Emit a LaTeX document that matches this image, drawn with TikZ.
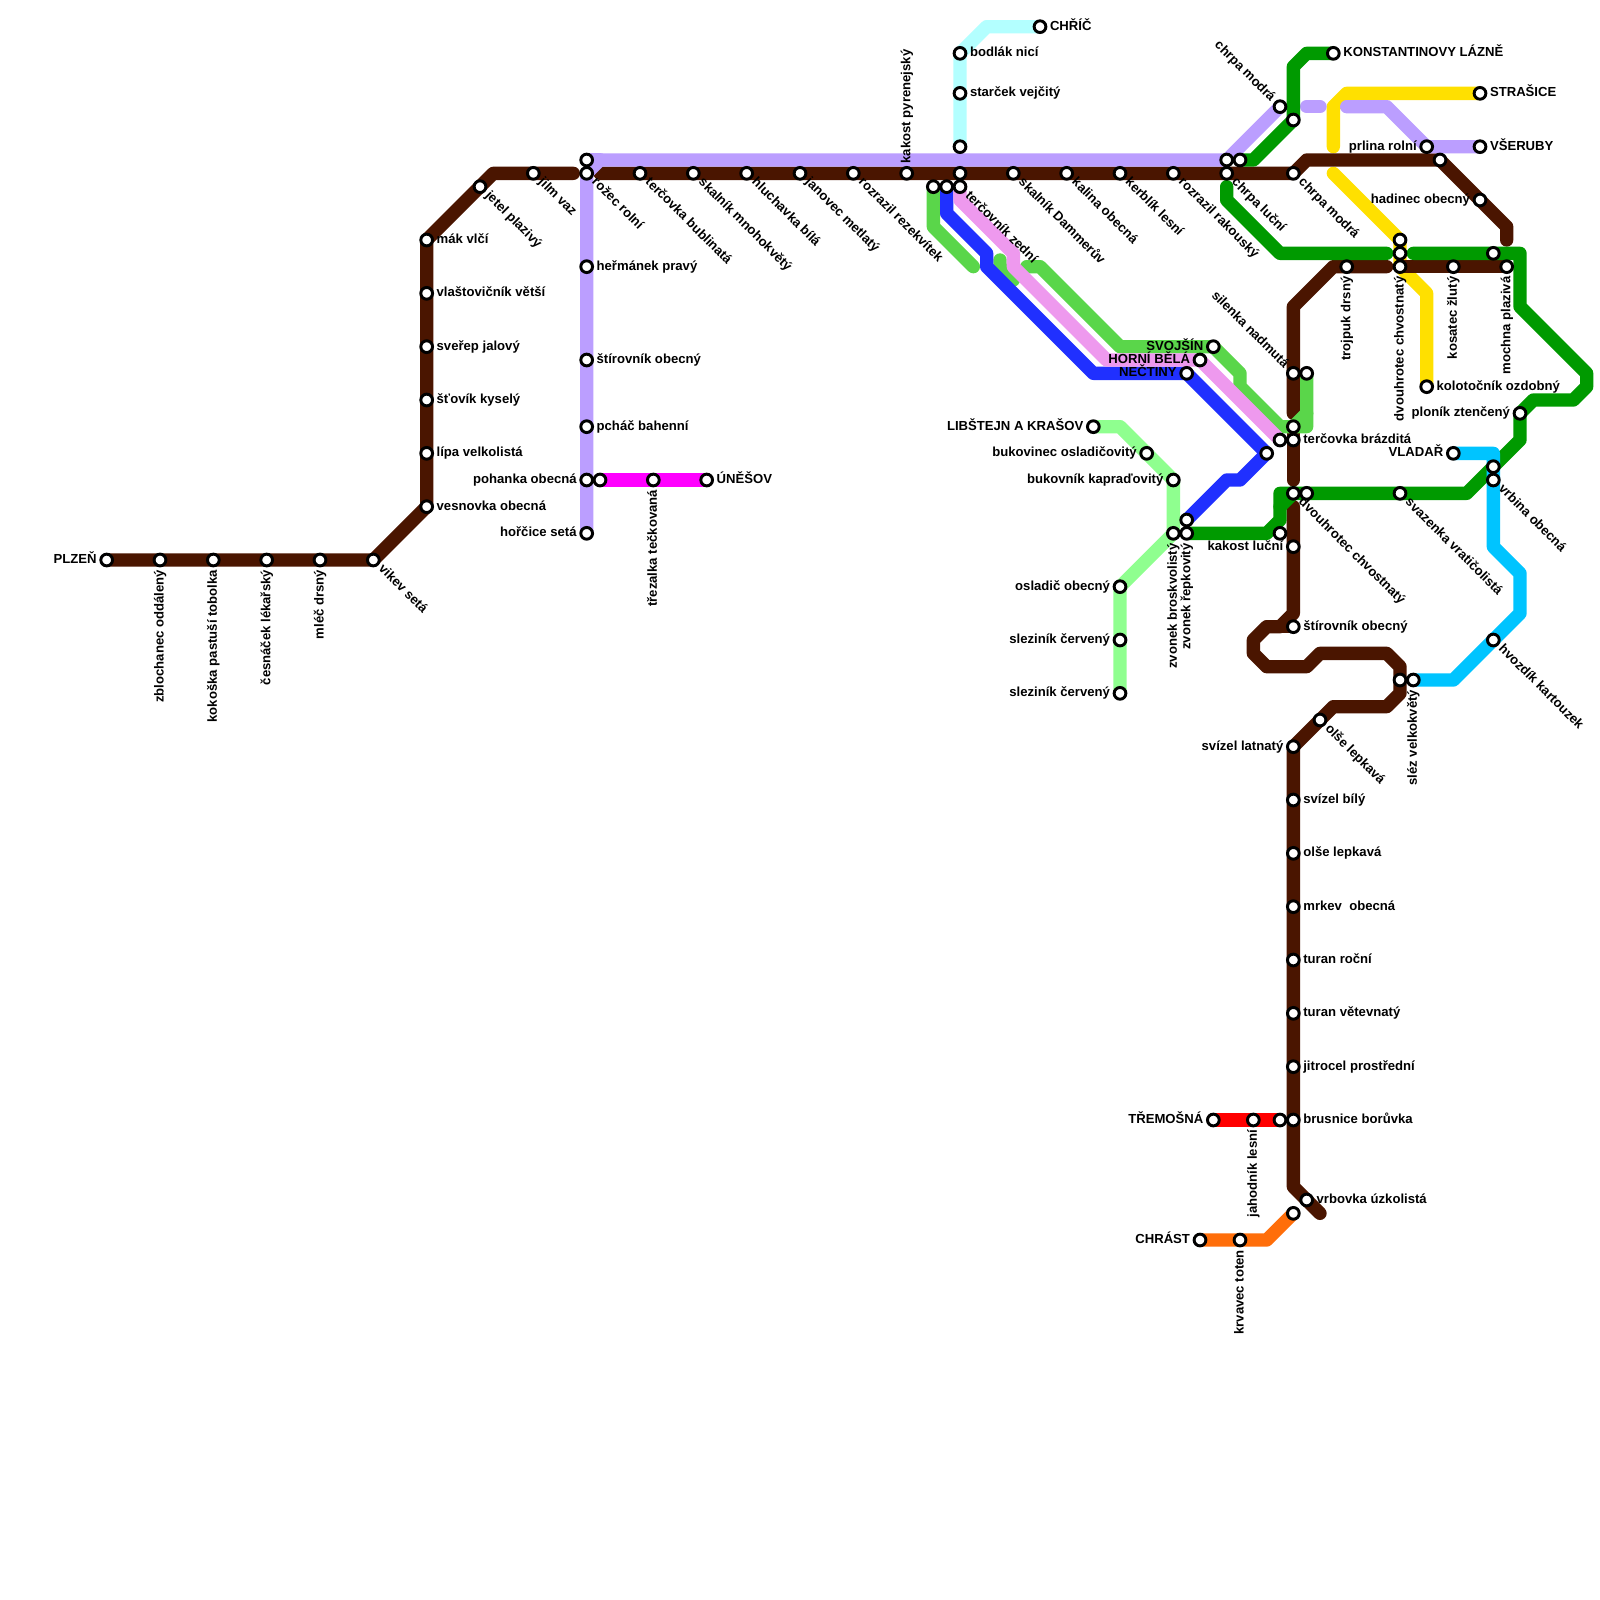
\documentclass[tikz,border=0pt]{standalone}
\usepackage{fontspec}
\setmainfont{Liberation Sans}
\definecolor{cBrown}{HTML}{4A1500}
\definecolor{cPurple}{HTML}{BB9EFF}
\definecolor{cGreen}{HTML}{009A00}
\definecolor{cLime}{HTML}{5AD64A}
\definecolor{cMint}{HTML}{8FFF8F}
\definecolor{cIce}{HTML}{B3FFFF}
\definecolor{cBlue}{HTML}{2030FF}
\definecolor{cPink}{HTML}{EE99EE}
\definecolor{cYellow}{HTML}{FFE000}
\definecolor{cSky}{HTML}{00C4FF}
\definecolor{cOrange}{HTML}{FF6E0A}
\definecolor{cMag}{HTML}{FF00FF}
\definecolor{cRed}{HTML}{FF0000}
\pgfdeclarelayer{lines}
\pgfsetlayers{lines,main}
\tikzset{
  stationdot/.style={circle,draw=black,fill=white,line width=.11cm,minimum size=.44cm,inner sep=0pt,outer sep=0pt},
  lbl/.style={inner sep=0pt,outer sep=0pt,text=black,font=\fontsize{14}{14}\selectfont\bfseries},
  lblE/.style={lbl,anchor=base west,xshift=.375cm,yshift=-.135cm},
  lblW/.style={lbl,anchor=base east,xshift=-.375cm,yshift=-.135cm},
  lblSE/.style={lbl,anchor=base west,xshift=.18cm,yshift=-.36cm,rotate=-45},
  lblNW/.style={lbl,anchor=base east,xshift=-.36cm,yshift=.17cm,rotate=-45},
  lblD/.style={lbl,anchor=base east,xshift=.135cm,yshift=-.375cm,rotate=90},
  lblU/.style={lbl,anchor=base west,xshift=.135cm,yshift=.375cm,rotate=90},
  metro/.style={line width=.5cm,line cap=round,line join=round},
}
\newcommand\mstop[3]{\coordinate (#1) at (#2,#3);\node[stationdot] (n#1) at (#1) {};}
\newcommand\mstn[5]{\mstop{#2}{#3}{#4}\node[lbl#1] (l#2) at (#2) {#5};}
\begin{document}
\begin{tikzpicture}[x=.5cm,y=-.5cm]
\useasboundingbox (0,0) rectangle (120,120);
% way points
\foreach \n/\x/\y in {
 bA/37/13,bB/43/13,bC/45/13,bD/98/12,bE/113/17,bF/113/18,bG/104/20,bH/100/20,bI/97/23,bJ/97/31,bK/97/36,bL/97/38,bM/97/46,bN/96/47,bO/95/47,bP/94/48,bQ/94/49,bR/95/50,bS/98/50,bT/99/49,bU/104/49,bV/105/50,bW/105/52,bX/104/53,bY/100/53,bZ/97/89,bEnd/99/91,
 pA/45/12,pB/98/8,pC/99/8,pD/101/8,pE/104/8,
 gA/98/4,gB/97/5,gW/94/12,gC/92/14,gD/92/15,gE/96/19,gF/104/19,gG/106/19,gH/114/19,gI/114/23,gJ/119/28,gK/119/29,gL/118/30,gM/115/30,gN/114/33,gO/110/37,gP/96/37,gQ/96/38,gR/96/39,gS/95/40,
 yA/101/7,yB/100/8,yC/100/11,yD/100/13,yE/107/22,
 lA/70/17,lB/73/20,lC/75/19.5,lD/75/20,lE/76/21,lF/77/20,lG/78/20,lH/84/26,lI/93/28,lJ/93/29,lK/96/32,lL/98/32,lM/98/31,
 uA/71/16,uB/74/19,uC/74/20,uD/82/28,uE/93/36,uF/92/36,
 kA/72/15,kB/76/19,kC/76/20,kD/83/27,kE/96/33,
 mA/84/32,
 iA/74/2,
 sA/112/34,sB/112/41,sC/114/43,sD/114/46,sE/109/51,
 oA/95/93}
 {\coordinate (\n) at (\x,\y);}
% stations
\mstn{W}{plzen}{8}{42}{PLZEŇ}
\mstn{D}{zbl}{12}{42}{zblochanec oddálený}
\mstn{D}{kok}{16}{42}{kokoška pastuší tobolka}
\mstn{D}{ces}{20}{42}{česnáček lékařský}
\mstn{D}{mlec}{24}{42}{mléč drsný}
\mstn{SE}{vikev}{28}{42}{vikev setá}
\mstn{E}{vesn}{32}{38}{vesnovka obecná}
\mstn{E}{lipa}{32}{34}{lípa velkolistá}
\mstn{E}{stov}{32}{30}{šťovík kyselý}
\mstn{E}{sver}{32}{26}{sveřep jalový}
\mstn{E}{vlas}{32}{22}{vlaštovičník větší}
\mstn{E}{mak}{32}{18}{mák vlčí}
\mstn{SE}{jetel}{36}{14}{jetel plazivý}
\mstn{SE}{jilm}{40}{13}{jilm vaz}
\mstop{puTop}{44}{12}
\mstn{SE}{rozec}{44}{13}{rožec rolní}
\mstn{E}{herm}{44}{20}{heřmánek pravý}
\mstn{E}{stirA}{44}{27}{štírovník obecný}
\mstn{E}{pchac}{44}{32}{pcháč bahenní}
\mstn{W}{pohan}{44}{36}{pohanka obecná}
\mstn{W}{horc}{44}{40}{hořčice setá}
\mstop{magA}{45}{36}
\mstn{D}{trez}{49}{36}{třezalka tečkovaná}
\mstn{E}{unes}{53}{36}{ÚNĚŠOV}
\mstn{SE}{terB}{48}{13}{terčovka bublinatá}
\mstn{SE}{skalM}{52}{13}{skalník mnohokvětý}
\mstn{SE}{hluch}{56}{13}{hluchavka bílá}
\mstn{SE}{janov}{60}{13}{janovec metlatý}
\mstn{SE}{rozR}{64}{13}{rozrazil rezekvítek}
\mstn{U}{kakP}{68}{13}{kakost pyrenejský}
\mstop{hub}{72}{13}
\mstn{SE}{skalD}{76}{13}{skalník Dammerův}
\mstn{SE}{kalina}{80}{13}{kalina obecná}
\mstn{SE}{kerb}{84}{13}{kerblík lesní}
\mstn{SE}{rozK}{88}{13}{rozrazil rakouský}
\mstn{SE}{chrL}{92}{13}{chrpa luční}
\mstn{SE}{chrM}{97}{13}{chrpa modrá}
\mstop{limeS}{70}{14}
\mstop{blueS}{71}{14}
\mstn{SE}{terZ}{72}{14}{terčovník zední}
\mstop{iceE}{72}{11}
\mstn{E}{starc}{72}{7}{starček vejčitý}
\mstn{E}{bodl}{72}{4}{bodlák nicí}
\mstn{E}{chric}{78}{2}{CHŘÍČ}
\mstn{NW}{chrN}{96}{8}{chrpa modrá}
\mstop{grTop}{97}{9}
\mstop{puHub}{92}{12}
\mstop{grHub}{93}{12}
\mstn{E}{konst}{100}{4}{KONSTANTINOVY LÁZNĚ}
\mstn{E}{stras}{111}{7}{STRAŠICE}
\mstn{E}{vser}{111}{11}{VŠERUBY}
\mstn{W}{prlina}{107}{11}{prlina rolní}
\mstop{brTop}{108}{12}
\mstn{W}{hadin}{111}{15}{hadinec obecný}
\mstop{yeA}{105}{18}
\mstop{yeB}{105}{19}
\mstn{D}{dvouA}{105}{20}{dvouhrotec chvostnatý}
\mstn{D}{troj}{101}{20}{trojpuk drsný}
\mstn{D}{kosat}{109}{20}{kosatec žlutý}
\mstop{grR}{112}{19}
\mstn{D}{mochna}{113}{20}{mochna plazivá}
\mstn{E}{kolot}{107}{29}{kolotočník ozdobný}
\mstn{W}{plon}{114}{31}{ploník ztenčený}
\mstn{W}{vladar}{109}{34}{VLADAŘ}
\mstop{skyA}{112}{35}
\mstn{SE}{vrbina}{112}{36}{vrbina obecná}
\mstn{SE}{svaz}{105}{37}{svazenka vratičolistá}
\mstn{SE}{dvouB}{97}{37}{dvouhrotec chvostnatý}
\mstop{grC}{98}{37}
\mstop{kakS}{96}{40}
\mstn{W}{kakL}{97}{41}{kakost luční}
\mstn{E}{stirB}{97}{47}{štírovník obecný}
\mstop{brV}{105}{51}
\mstn{D}{slez}{106}{51}{sléz velkokvětý}
\mstn{SE}{hvoz}{112}{48}{hvozdík kartouzek}
\mstn{SE}{olseA}{99}{54}{olše lepkavá}
\mstn{W}{svizL}{97}{56}{svízel latnatý}
\mstn{E}{svizB}{97}{60}{svízel bílý}
\mstn{E}{olseB}{97}{64}{olše lepkavá}
\mstn{E}{mrkev}{97}{68}{mrkev\ \ obecná}
\mstn{E}{turR}{97}{72}{turan roční}
\mstn{E}{turV}{97}{76}{turan větevnatý}
\mstn{E}{jitro}{97}{80}{jitrocel prostřední}
\mstn{E}{brus}{97}{84}{brusnice borůvka}
\mstop{redE}{96}{84}
\mstn{D}{jahod}{94}{84}{jahodník lesní}
\mstn{W}{trem}{91}{84}{TŘEMOŠNÁ}
\mstn{E}{vrbov}{98}{90}{vrbovka úzkolistá}
\mstop{orE}{97}{91}
\mstn{D}{krvav}{93}{93}{krvavec toten}
\mstn{W}{chrast}{90}{93}{CHRÁST}
\mstn{W}{svoj}{91}{26}{SVOJŠÍN}
\mstn{W}{horni}{90}{27}{HORNÍ BĚLÁ}
\mstn{W}{nect}{89}{28}{NEČTINY}
\mstn{NW}{silen}{97}{28}{silenka nadmutá}
\mstop{limeT}{98}{28}
\mstop{limeE}{97}{32}
\mstn{E}{terBr}{97}{33}{terčovka brázditá}
\mstop{pinkE}{96}{33}
\mstop{blueM}{95}{34}
\mstn{W}{libs}{82}{32}{LIBŠTEJN A KRAŠOV}
\mstn{W}{bukO}{86}{34}{bukovinec osladičovitý}
\mstn{W}{bukK}{88}{36}{bukovník kapraďovitý}
\mstn{D}{zvonB}{88}{40}{zvonek broskvolistý}
\mstn{D}{zvonR}{89}{40}{zvonek řepkovitý}
\mstop{blueE}{89}{39}
\mstn{W}{oslad}{84}{44}{osladič obecný}
\mstn{W}{slezA}{84}{48}{sleziník červený}
\mstn{W}{slezB}{84}{52}{sleziník červený}
% lines
\begin{pgfonlayer}{lines}
\fill[white] (0,0) rectangle (120,120);
\draw[metro,cYellow] (stras) -- (yA) -- (yB) -- (yC);
\draw[metro,cYellow] (yD) -- (yeA) -- (dvouA) -- (yE) -- (kolot);
\draw[metro,cMint] (libs) -- (mA) -- (bukK) -- (zvonB) -- (oslad) -- (slezB);
\draw[metro,cIce] (chric) -- (iA) -- (bodl) -- (iceE);
\draw[metro,cBrown] (plzen) -- (vikev) -- (vesn) -- (mak) -- (bA) -- (bB);
\draw[metro,cBrown] (bC) -- (chrM) -- (bD) -- (brTop) -- (bE) -- (bF);
\draw[metro,cBrown] (mochna) -- (dvouA);
\draw[metro,cBrown] (bG) -- (bH) -- (bI) -- (bJ);
\draw[metro,cBrown] (limeE) -- (bK);
\draw[metro,cBrown] (bL) -- (bM) -- (bN) -- (bO) -- (bP) -- (bQ) -- (bR) -- (bS) -- (bT) -- (bU) -- (bV) -- (bW) -- (bX) -- (bY) -- (svizL) -- (bZ) -- (bEnd);
\draw[metro,cBrown] (bN) -- (stirB);
\draw[metro,cPurple] (horc) -- (rozec) -- (pA) -- (puHub) -- (chrN);
\draw[metro,cPurple] (puTop) -- (pA);
\draw[metro,cPurple] (pB) -- (pC);
\draw[metro,cPurple] (pD) -- (pE) -- (prlina) -- (vser);
\draw[metro,cMag] (magA) -- (unes);
\draw[metro,cGreen] (konst) -- (gA) -- (gB) -- (grTop) -- (gW) -- (grHub);
\draw[metro,cGreen] (gC) -- (gD) -- (gE) -- (gF);
\draw[metro,cGreen] (gG) -- (gH) -- (gI) -- (gJ) -- (gK) -- (gL) -- (gM) -- (plon) -- (gN) -- (gO) -- (gP) -- (gR) -- (gS) -- (zvonR);
\draw[metro,cGreen] (dvouB) -- (gQ);
\draw[metro,cLime] (limeS) -- (lA) -- (lB);
\draw[metro,cLime] (lC) -- (lD) -- (lE);
\draw[metro,cLime] (lF) -- (lG) -- (lH) -- (svoj) -- (lI) -- (lJ) -- (lK) -- (lL) -- (limeT);
\draw[metro,cLime] (lM) -- (limeE);
\draw[metro,cBlue] (blueS) -- (uA) -- (uB) -- (uC) -- (uD) -- (nect) -- (blueM) -- (uE) -- (uF) -- (blueE);
\draw[metro,cPink] (terZ) -- (kA) -- (kB) -- (kC) -- (kD) -- (horni) -- (kE);
\draw[metro,cSky] (vladar) -- (sA) -- (skyA) -- (sB) -- (sC) -- (sD) -- (sE) -- (slez);
\draw[metro,cRed] (trem) -- (redE);
\draw[metro,cOrange] (chrast) -- (oA) -- (orE);
\end{pgfonlayer}
\end{tikzpicture}
\end{document}
